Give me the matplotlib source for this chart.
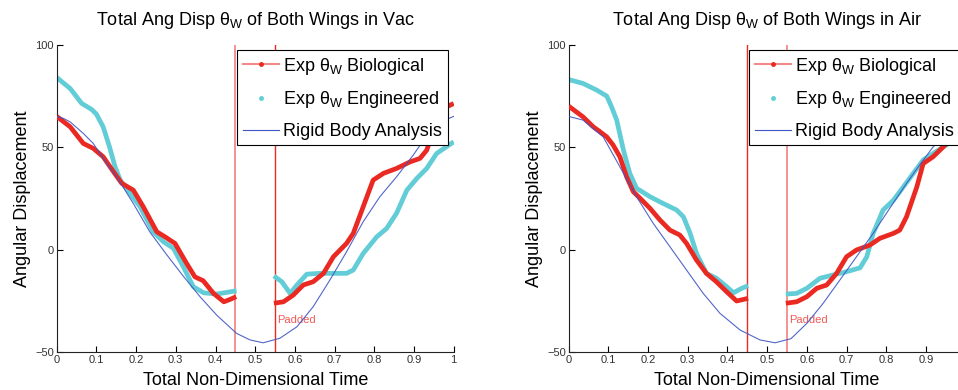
import matplotlib
matplotlib.use('Agg')
import matplotlib.pyplot as plt
from matplotlib.lines import Line2D

plt.rcParams['font.family'] = ['Liberation Sans', 'DejaVu Sans']
plt.rcParams['mathtext.fontset'] = 'custom'
plt.rcParams['mathtext.rm'] = 'Liberation Sans'

# ---- vacuum run ----
vac_bio_t1 = [0, 0.034, 0.067, 0.092, 0.117, 0.143, 0.164, 0.193, 0.218, 0.252, 0.273,
              0.298, 0.327, 0.348, 0.369, 0.395, 0.421, 0.437, 0.452]
vac_bio_y1 = [65, 59.9, 51.8, 49.4, 45.3, 38, 32.3, 29, 20.9, 8.7, 6.2,
              3, -6.7, -13.3, -15.2, -21.4, -25.5, -24.3, -23]
vac_bio_t2 = [0.547, 0.571, 0.596, 0.621, 0.646, 0.672, 0.697, 0.73, 0.747, 0.772, 0.797,
              0.823, 0.856, 0.89, 0.915, 0.932, 0.949, 0.974, 1.0]
vac_bio_y2 = [-26.2, -25.5, -22.2, -17.3, -15.7, -11.6, -3.5, 3, 7.9, 20.9, 33.9,
              37.2, 39.6, 42.8, 44.5, 48.5, 58.3, 68.9, 71.3]

vac_eng_t1 = [0, 0.034, 0.063, 0.088, 0.1, 0.117, 0.133, 0.147, 0.16, 0.185, 0.21,
              0.243, 0.269, 0.294, 0.319, 0.344, 0.37, 0.403, 0.453]
vac_eng_y1 = [84, 78.6, 71.3, 68.4, 66.1, 59.9, 50.1, 40.4, 33.9, 27.4, 20.9,
              8.7, 3.8, 0.6, -8.4, -18.1, -21.1, -21.7, -20.1]
vac_eng_t2 = [0.547, 0.567, 0.588, 0.605, 0.63, 0.663, 0.73, 0.747, 0.772, 0.806, 0.831,
              0.856, 0.882, 0.907, 0.932, 0.957, 1.0]
vac_eng_y2 = [-12.9, -15.7, -21.4, -17.3, -12, -11.6, -11.6, -10, -1.9, 6.2, 10.3,
              17.7, 29, 34.7, 39.6, 46.9, 52.6]

vac_rigid_t = [0, 0.017, 0.034, 0.067, 0.092, 0.126, 0.151, 0.193, 0.235, 0.277, 0.319,
               0.361, 0.403, 0.453, 0.487, 0.52, 0.562, 0.605, 0.646, 0.688, 0.73,
               0.772, 0.814, 0.856, 0.898, 0.924, 0.957, 1.0]
vac_rigid_y = [65, 64, 62.3, 56.7, 51.8, 42, 35.5, 22.5, 8.5, -2.5, -13,
               -23, -32, -40.9, -44.1, -45.5, -43.3, -37.7, -27.9, -14.9, -1.1,
               13.6, 25.8, 35.5, 46.1, 53.4, 61.6, 65]

# ---- air run ----
air_bio_t1 = [0, 0.036, 0.062, 0.079, 0.096, 0.112, 0.129, 0.146, 0.163, 0.18, 0.205,
              0.23, 0.255, 0.28, 0.297, 0.322, 0.347, 0.372, 0.398, 0.423, 0.452]
air_bio_y1 = [70, 64.8, 59.9, 57.5, 55, 51, 45.3, 35.5, 28.2, 25, 20.1,
              14.4, 9.5, 7.1, 3, -5.1, -11.6, -15.7, -20.6, -25.1, -23.8]
air_bio_t2 = [0.547, 0.574, 0.6, 0.625, 0.65, 0.675, 0.7, 0.725, 0.759, 0.784, 0.818,
              0.834, 0.851, 0.877, 0.893, 0.918, 0.935, 0.96, 1.0]
air_bio_y2 = [-26.2, -25.5, -23, -18.9, -17.3, -11.6, -3.5, -0.2, 2.2, 5.5, 7.9,
              9.5, 16, 30.6, 42, 45.3, 48.5, 53.4, 60]

air_eng_t1 = [0, 0.036, 0.071, 0.096, 0.108, 0.121, 0.138, 0.154, 0.171, 0.205, 0.238,
              0.272, 0.289, 0.306, 0.322, 0.347, 0.372, 0.398, 0.415, 0.436, 0.452]
air_eng_y1 = [83, 81.1, 77.8, 74.9, 69.7, 63.2, 48.5, 37.2, 29.9, 25.8, 22.5,
              19.3, 16, 7.9, -1.9, -11.6, -14, -18.1, -21.1, -18.9, -17.6]
air_eng_t2 = [0.547, 0.574, 0.6, 0.633, 0.666, 0.7, 0.734, 0.751, 0.767, 0.792, 0.818,
              0.843, 0.868, 0.893, 0.918, 0.944, 0.969, 1.0]
air_eng_y2 = [-21.7, -21.4, -18.9, -14, -12.4, -10.8, -8.9, -3.5, 7.9, 19.3, 24.1,
              30.6, 37.2, 43.7, 46.9, 50.1, 53.4, 58]

air_rigid_t = [0, 0.036, 0.087, 0.129, 0.171, 0.213, 0.255, 0.297, 0.339, 0.381, 0.432,
               0.482, 0.52, 0.56, 0.6, 0.64, 0.683, 0.725, 0.767, 0.81, 0.851,
               0.885, 0.918, 0.96, 1.0]
air_rigid_y = [65, 63.2, 55, 40.4, 25.8, 12.8, 1.4, -10, -21.4, -31.1, -39.3,
               -44.1, -45.5, -43.5, -36, -26.5, -14.9, -3.5, 7.9, 20.5, 32.3,
               41.5, 50.1, 59, 65]

x_ticks = [0, 0.1, 0.2, 0.3, 0.4, 0.5, 0.6, 0.7, 0.8, 0.9, 1]
x_ticklabels = ['0', '0.1', '0.2', '0.3', '0.4', '0.5', '0.6', '0.7', '0.8', '0.9', '1']
y_ticks = [-50, 0, 50, 100]
gap_start, gap_end = 0.45, 0.55

RED = '#ea2a22'
PINK = '#f48a88'
CYAN = '#62cdd6'
BLUE = '#3f55c4'

fig = plt.figure(figsize=(9.58, 3.9), dpi=100)
ax1 = fig.add_axes([0.0592, 0.0974, 0.4144, 0.788])
ax2 = fig.add_axes([0.5936, 0.0974, 0.4144, 0.788])

runs = [
    (ax1, 'Vac', vac_bio_t1, vac_bio_y1, vac_bio_t2, vac_bio_y2,
     vac_eng_t1, vac_eng_y1, vac_eng_t2, vac_eng_y2, vac_rigid_t, vac_rigid_y, (PINK, RED)),
    (ax2, 'Air', air_bio_t1, air_bio_y1, air_bio_t2, air_bio_y2,
     air_eng_t1, air_eng_y1, air_eng_t2, air_eng_y2, air_rigid_t, air_rigid_y, (RED, PINK)),
]

for (ax, medium, bt1, by1, bt2, by2, et1, ey1, et2, ey2, rt, ry, vcols) in runs:
    ax.axvline(gap_start, color=vcols[0], lw=1.3 if vcols[0] == PINK else 1.0, zorder=1)
    ax.axvline(gap_end, color=vcols[1], lw=1.3 if vcols[1] == PINK else 1.0, zorder=1)

    ax.plot(bt1, by1, color=RED, lw=3.4, solid_capstyle='butt', zorder=3)
    ax.plot(bt2, by2, color=RED, lw=3.4, solid_capstyle='butt', zorder=3)
    ax.plot(et1, ey1, color=CYAN, lw=3.4, solid_capstyle='butt', zorder=2)
    ax.plot(et2, ey2, color=CYAN, lw=3.4, solid_capstyle='butt', zorder=2)
    ax.plot(rt, ry, color=BLUE, lw=0.8, alpha=0.9, zorder=4)

    ax.text(gap_end + 0.006, -34.5, 'Padded', color='#f05a55', fontsize=8,
            ha='left', va='center')

    ax.set_xlim(0, 1)
    ax.set_ylim(-50, 100)
    ax.set_yticks(y_ticks)
    ax.tick_params(direction='in', length=4, width=0.8, labelsize=8,
                   labelcolor='#333333', pad=2)
    ax.spines['top'].set_visible(False)
    ax.spines['right'].set_visible(False)
    ax.spines['left'].set_color('#222222')
    ax.spines['bottom'].set_color('#222222')

    ax.set_title(r'Total Ang Disp θ$_\mathrm{W}$ of Both Wings in ' + medium,
                 fontsize=13, pad=14)
    ax.set_xlabel('Total Non-Dimensional Time', fontsize=13, labelpad=5)
    ax.set_ylabel('Angular Displacement', fontsize=13, labelpad=3)

    handles = [
        Line2D([], [], color=PINK, lw=1.5, marker='.', markersize=5,
               markerfacecolor=RED, markeredgecolor=RED),
        Line2D([], [], color=CYAN, lw=0, marker='.', markersize=5),
        Line2D([], [], color=BLUE, lw=0.8),
    ]
    labels = [r'Exp θ$_\mathrm{W}$ Biological', r'Exp θ$_\mathrm{W}$ Engineered',
              'Rigid Body Analysis']
    leg = ax.legend(handles, labels, loc='upper left', bbox_to_anchor=(0.455, 0.982),
                    fontsize=13, frameon=True, fancybox=False, framealpha=1,
                    edgecolor='black', borderpad=0.3, labelspacing=0.7,
                    handlelength=2.0, handletextpad=0.25, borderaxespad=0)
    leg.get_frame().set_linewidth(0.8)
    leg.set_zorder(10)

# the right-hand axes runs past the figure edge, so its last label is left off
ax1.set_xticks(x_ticks)
ax1.set_xticklabels(x_ticklabels)
ax2.set_xticks(x_ticks)
ax2.set_xticklabels(x_ticklabels[:-1] + [''])

fig.savefig('out.png', dpi=100)
